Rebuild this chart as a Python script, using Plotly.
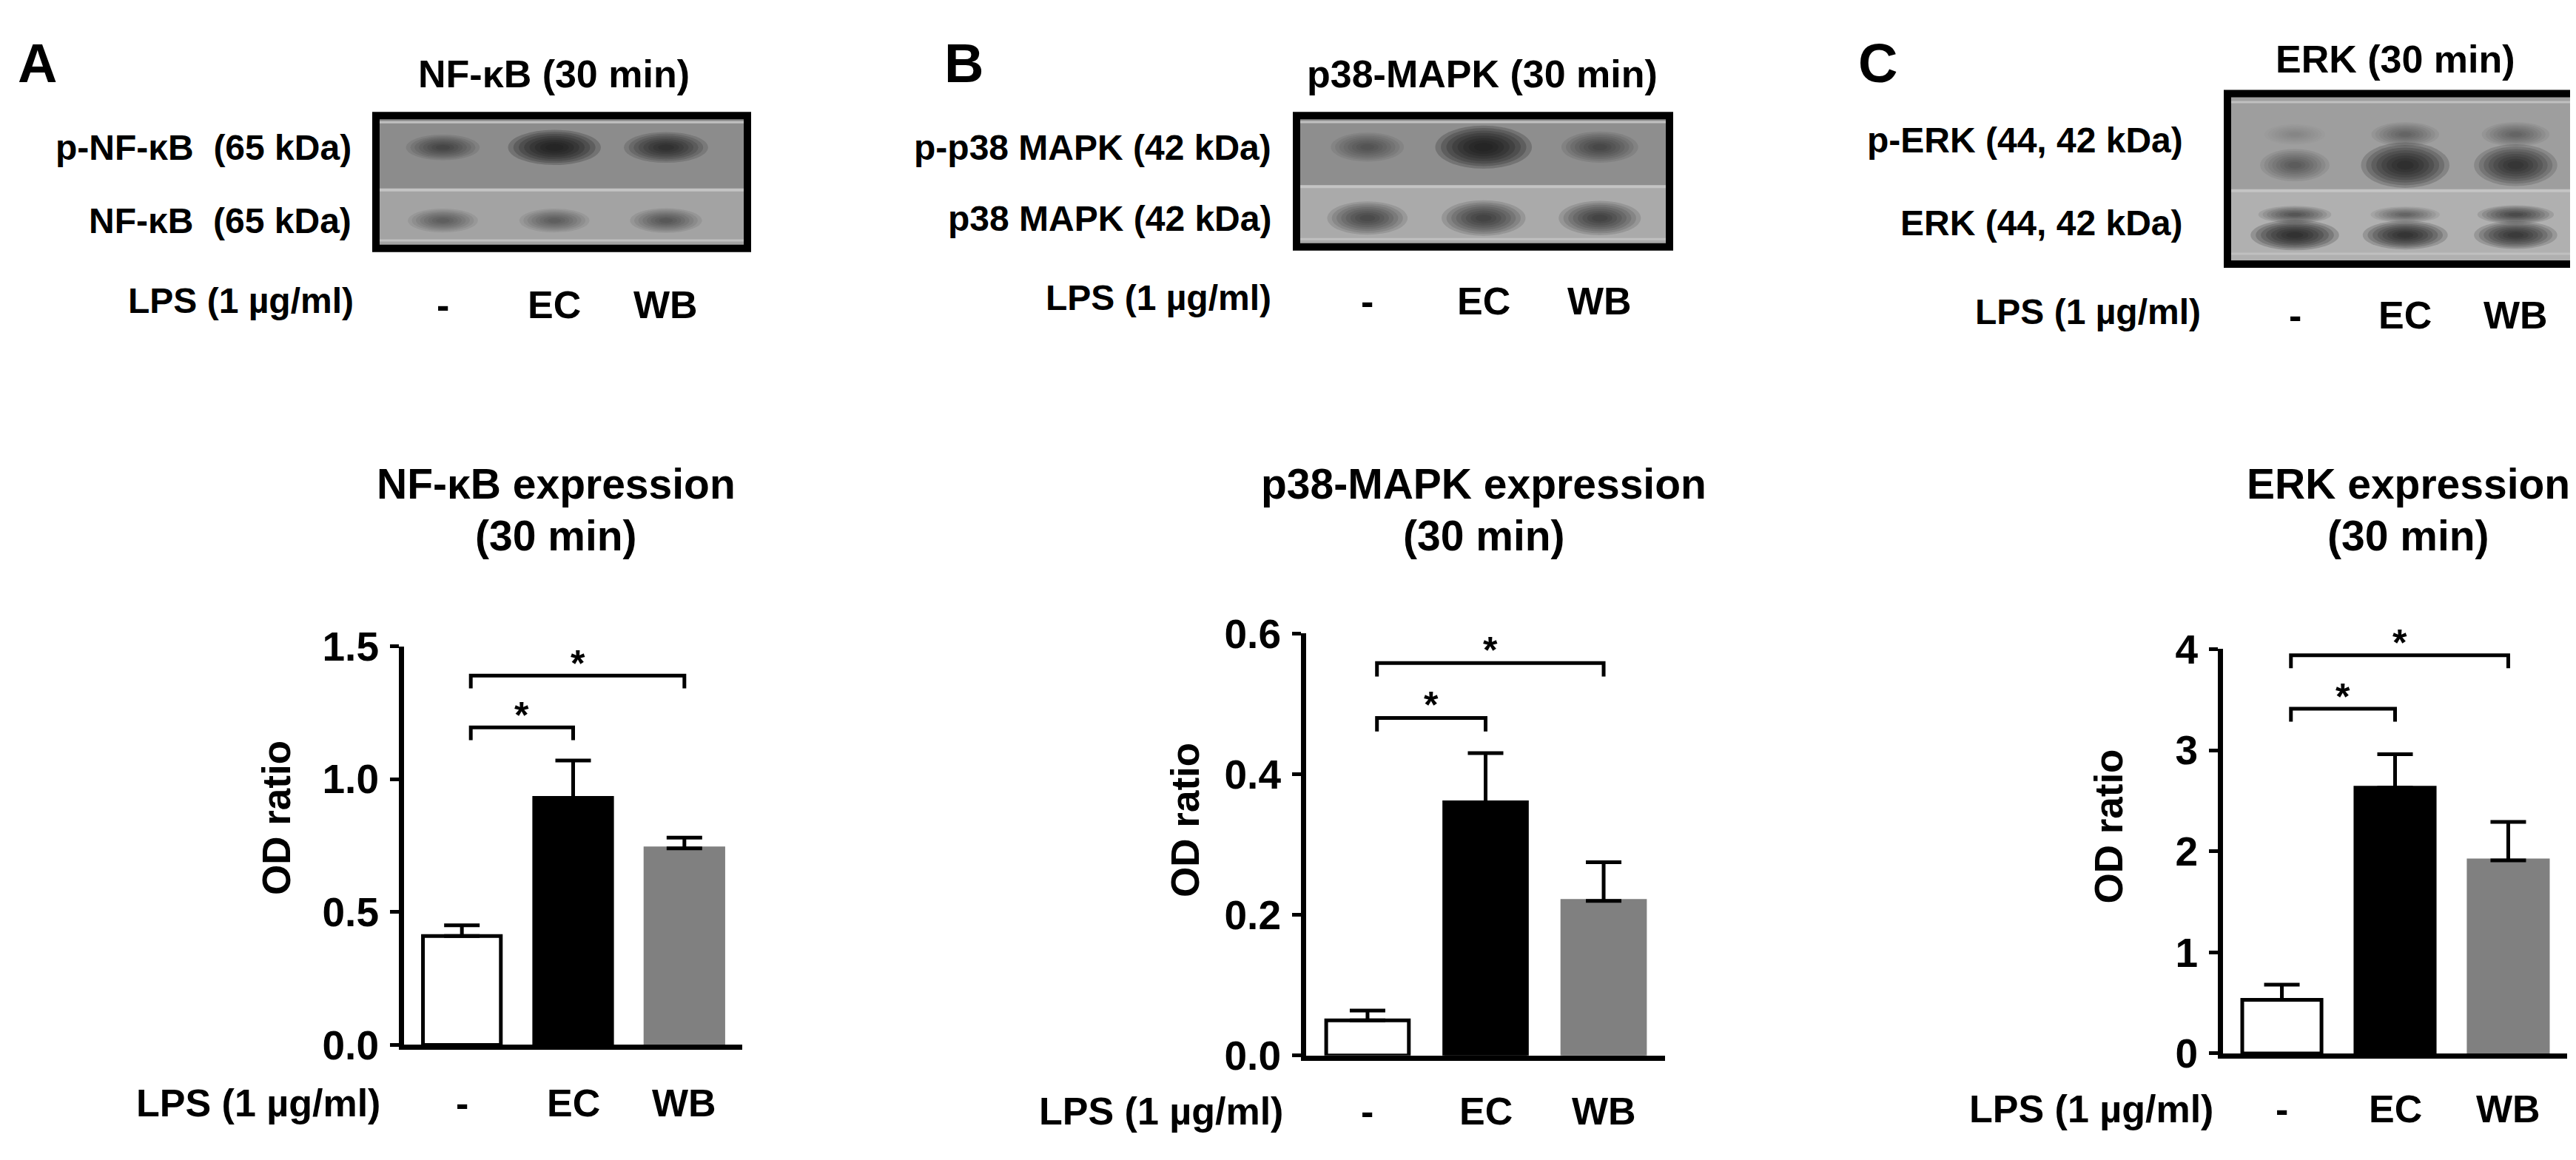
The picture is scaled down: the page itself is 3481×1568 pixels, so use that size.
import plotly.graph_objects as go

W, H = 3481, 1568

# ---- data ----
lanes = ["-", "EC", "WB"]

nfkb_mean = [0.41, 0.93, 0.74]
nfkb_sem = [0.04, 0.14, 0.04]
p38_mean = [0.05, 0.36, 0.22]
p38_sem = [0.014, 0.07, 0.055]
erk_mean = [0.53, 2.63, 1.91]
erk_sem = [0.15, 0.33, 0.38]

# significance brackets: y level of the short (vs EC) and long (vs WB) bracket
nfkb_brackets = [1.195, 1.39]
p38_brackets = [0.48, 0.558]
erk_brackets = [3.41, 3.94]

# relative band darkness per lane (western blots)
nfkb_p_band = [0.45, 1.0, 0.75]
nfkb_t_band = [0.35, 0.35, 0.4]
p38_p_band = [0.35, 1.0, 0.45]
p38_t_band = [0.55, 0.65, 0.6]
erk_p44_band = [0.1, 0.3, 0.3]
erk_p42_band = [0.35, 0.9, 0.75]
erk_t44_band = [0.45, 0.35, 0.55]
erk_t42_band = [0.9, 0.8, 0.75]


def px(x):
    return x / W


def py(y):
    return 1 - y / H


FONT = "Liberation Sans, Arial, sans-serif"


def bold(size):
    return dict(family=FONT, size=size, color="black", weight="bold")


def text(x, y, s, size, xref="paper", xanchor="center", **kw):
    return dict(x=x, y=y, xref=xref, yref="paper", text=s, showarrow=False,
                xanchor=xanchor, yanchor="middle", font=bold(size), **kw)


fig = go.Figure()
annotations = []
shapes = []

bar_colors = ["white", "black", "#808080"]
line_colors = ["black", "black", "#808080"]

panels = [
    dict(mean=nfkb_mean, sem=nfkb_sem, br=nfkb_brackets, ymax=1.5, dtick=0.5, fmt=".1f",
         dom_x=(538, 995), dom_y=(869, 1430), title="NF-κB expression", tx=743,
         od_x=365, od_y=1111, lps_r=508, lps_y=1512),
    dict(mean=p38_mean, sem=p38_sem, br=p38_brackets, ymax=0.6, dtick=0.2, fmt=".1f",
         dom_x=(1757, 2242), dom_y=(851, 1445), title="p38-MAPK expression", tx=1997,
         od_x=1594, od_y=1114, lps_r=1728, lps_y=1523),
    dict(mean=erk_mean, sem=erk_sem, br=erk_brackets, ymax=4, dtick=1, fmt="d",
         dom_x=(2996, 3461), dom_y=(873, 1442), title="ERK expression", tx=3246,
         od_x=2842, od_y=1123, lps_r=2985, lps_y=1520),
]

layout_axes = {}
for i, p in enumerate(panels):
    n = "" if i == 0 else str(i + 1)
    xa, ya = "x" + n, "y" + n
    fig.add_trace(go.Bar(
        x=[0, 1, 2], y=p["mean"], width=0.7, xaxis=xa, yaxis=ya,
        marker=dict(color=bar_colors, line=dict(color=line_colors, width=5)),
        error_y=dict(type="data", array=p["sem"], arrayminus=[0, 0, 0], symmetric=False,
                     color="black", thickness=5, width=24),
        showlegend=False, hoverinfo="skip",
    ))
    layout_axes["xaxis" + n] = dict(
        domain=[px(p["dom_x"][0]), px(p["dom_x"][1])], range=[-0.52, 2.52],
        anchor=ya, showline=True, linecolor="black", linewidth=7, showgrid=False,
        zeroline=False, showticklabels=False, ticks="", fixedrange=True)
    layout_axes["yaxis" + n] = dict(
        domain=[py(p["dom_y"][1]), py(p["dom_y"][0])], range=[0, p["ymax"]],
        anchor=xa, showline=True, linecolor="black", linewidth=7, showgrid=False,
        zeroline=False, ticks="outside", ticklen=12, tickwidth=5, tickcolor="black",
        dtick=p["dtick"], tick0=0, tickformat=p["fmt"], tickfont=bold(55),
        ticklabelstandoff=4, fixedrange=True)

    # brackets and stars (stars use the axis domain so the top one is not clipped)
    drop = 0.032 * p["ymax"]
    for lvl, end in zip(p["br"], [1, 2]):
        shapes.append(dict(type="path", xref=xa, yref=ya,
                           path=f"M 0.08 {lvl - drop} L 0.08 {lvl} L {end} {lvl} L {end} {lvl - drop}",
                           line=dict(color="black", width=5)))
        annotations.append(dict(x=(0.08 + end) / 2, y=lvl / p["ymax"] + 0.03,
                                xref=xa, yref=ya + " domain",
                                text="*", showarrow=False, xanchor="center", yanchor="middle",
                                font=bold(50)))

    # chart title, axis title, LPS row
    annotations.append(text(px(p["tx"]), py(640), p["title"], 57))
    annotations.append(text(px(p["tx"]), py(713), "(30 min)", 57))
    annotations.append(text(px(p["od_x"]), py(p["od_y"]), "OD ratio", 53, textangle=-90))
    annotations.append(text(px(p["lps_r"]), py(p["lps_y"]), "LPS (1 µg/ml)", 52, xanchor="right"))
    for k, lab in enumerate(lanes):
        annotations.append(text(k, py(p["lps_y"]), lab, 52, xref=xa))

# ---- western blots ----
blots = [
    dict(letter="A", lx=42, title="NF-κB (30 min)", tx=740, ty=64,
         box_x=(500, 1002), box_y=(122, 309), xr=[-0.6, 2.73], div=0.44,
         top="#8c8c8c", bot="#a3a3a3",
         rows=[("p-NF-κB  (65 kDa)", nfkb_p_band, 0.76, 0.085, 167),
               ("NF-κB  (65 kDa)", nfkb_t_band, 0.21, 0.085, 270)],
         lab_r=469, lps_r=472, lps_y=383),
    dict(letter="B", lx=1294, title="p38-MAPK (30 min)", tx=1995, ty=64,
         box_x=(1744, 2248), box_y=(122, 307), xr=[-0.61, 2.6], div=0.46,
         top="#8e8e8e", bot="#aaaaaa",
         rows=[("p-p38 MAPK (42 kDa)", p38_p_band, 0.76, 0.105, 167),
               ("p38 MAPK (42 kDa)", p38_t_band, 0.22, 0.105, 267)],
         lab_r=1712, lps_r=1712, lps_y=378),
    dict(letter="C", lx=2529, title="ERK (30 min)", tx=3229, ty=43,
         box_x=(3002, 3475), box_y=(91, 331), xr=[-0.61, 2.56], div=0.43,
         top="#9e9e9e", bot="#b0b0b0",
         rows=[(None, erk_p44_band, 0.76, 0.07, None),
               ("p-ERK (44, 42 kDa)", erk_p42_band, 0.58, 0.09, 157),
               (None, erk_t44_band, 0.29, 0.045, None),
               ("ERK (44, 42 kDa)", erk_t42_band, 0.17, 0.06, 273)],
         lab_r=2944, lps_r=2968, lps_y=398),
]

for j, b in enumerate(blots):
    n = str(4 + j)
    xa, ya = "x" + n, "y" + n
    layout_axes["xaxis" + n] = dict(domain=[px(b["box_x"][0]), px(b["box_x"][1])], range=b["xr"],
                                    anchor=ya, visible=False, fixedrange=True)
    layout_axes["yaxis" + n] = dict(domain=[py(b["box_y"][1]), py(b["box_y"][0])], range=[0, 1],
                                    anchor=xa, visible=False, fixedrange=True)
    # membrane background
    shapes.append(dict(type="rect", xref=xa, yref=ya, x0=b["xr"][0], x1=b["xr"][1], y0=b["div"], y1=1,
                       fillcolor=b["top"], line_width=0, layer="below"))
    shapes.append(dict(type="rect", xref=xa, yref=ya, x0=b["xr"][0], x1=b["xr"][1], y0=0, y1=b["div"],
                       fillcolor=b["bot"], line_width=0, layer="below"))
    shapes.append(dict(type="line", xref=xa, yref=ya, x0=b["xr"][0], x1=b["xr"][1], y0=b["div"], y1=b["div"],
                       line=dict(color="#c4c4c4", width=4)))
    for yl in (0.06, 0.95):
        shapes.append(dict(type="line", xref=xa, yref=ya, x0=b["xr"][0], x1=b["xr"][1], y0=yl, y1=yl,
                           line=dict(color="#c0c0c0", width=3)))
    # bands drawn as stacked soft ellipses
    for label, band, yc, hh, ly in b["rows"]:
        for k, v in enumerate(band):
            hw = 0.2 + 0.12 * v
            h = hh * (0.6 + 0.6 * v)
            for scale in (1.3, 1.15, 1.0, 0.85, 0.7, 0.55, 0.4, 0.25):
                shapes.append(dict(type="circle", xref=xa, yref=ya,
                                   x0=k - hw * scale, x1=k + hw * scale,
                                   y0=yc - h * scale, y1=yc + h * scale,
                                   fillcolor=f"rgba(25,25,25,{0.22 * v:.3f})", line_width=0))
        if label:
            annotations.append(text(px(b["lab_r"]), py(ly), label, 48, xanchor="right"))
    # frame
    shapes.append(dict(type="rect", xref="paper", yref="paper",
                       x0=px(b["box_x"][0]), x1=px(b["box_x"][1]),
                       y0=py(b["box_y"][1]), y1=py(b["box_y"][0]),
                       line=dict(color="black", width=10)))
    # texts
    annotations.append(text(px(b["lx"]), py(48), b["letter"], 74))
    annotations.append(text(px(b["tx"]), py(b["ty"]), b["title"], 52))
    annotations.append(text(px(b["lps_r"]), py(b["lps_y"]), "LPS (1 µg/ml)", 48, xanchor="right"))
    for k, lab in enumerate(lanes):
        annotations.append(text(k, py(b["lps_y"] + 5), lab, 52, xref=xa))

fig.update_layout(
    width=W, height=H, margin=dict(l=0, r=0, t=0, b=0),
    paper_bgcolor="white", plot_bgcolor="white",
    annotations=annotations, shapes=shapes, bargap=0.3,
    **layout_axes,
)

fig.write_html("out.html")
